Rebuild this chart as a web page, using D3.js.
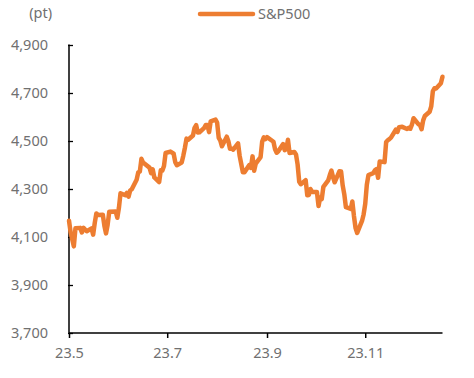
<!DOCTYPE html>
<html>
<head>
<meta charset="utf-8">
<script src="https://cdn.jsdelivr.net/npm/d3@7"></script>
<style>
html,body{margin:0;padding:0;background:#fff;}
svg text{font-family:"Noto Sans",sans-serif;fill:#707070;}
</style>
</head>
<body>
<svg id="chart" width="474" height="378"></svg>
<script>
const seriesName = "S&P500";
const unitLabel = "(pt)";
const yTicks = [3700, 3900, 4100, 4300, 4500, 4700, 4900];
const xTickDates = ["2023-05-01", "2023-07-01", "2023-09-01", "2023-11-01"];
const xTickLabels = ["23.5", "23.7", "23.9", "23.11"];
const dates = [
"2023-05-01","2023-05-02","2023-05-03","2023-05-04","2023-05-05","2023-05-08","2023-05-09","2023-05-10","2023-05-11","2023-05-12",
"2023-05-15","2023-05-16","2023-05-17","2023-05-18","2023-05-19","2023-05-22","2023-05-23","2023-05-24","2023-05-25","2023-05-26",
"2023-05-30","2023-05-31","2023-06-01","2023-06-02","2023-06-05","2023-06-06","2023-06-07","2023-06-08","2023-06-09","2023-06-12",
"2023-06-13","2023-06-14","2023-06-15","2023-06-16","2023-06-20","2023-06-21","2023-06-22","2023-06-23","2023-06-26","2023-06-27",
"2023-06-28","2023-06-29","2023-06-30","2023-07-03","2023-07-05","2023-07-06","2023-07-07","2023-07-10","2023-07-11","2023-07-12",
"2023-07-13","2023-07-14","2023-07-17","2023-07-18","2023-07-19","2023-07-20","2023-07-21","2023-07-24","2023-07-25","2023-07-26",
"2023-07-27","2023-07-28","2023-07-31","2023-08-01","2023-08-02","2023-08-03","2023-08-04","2023-08-07","2023-08-08","2023-08-09",
"2023-08-10","2023-08-11","2023-08-14","2023-08-15","2023-08-16","2023-08-17","2023-08-18","2023-08-21","2023-08-22","2023-08-23",
"2023-08-24","2023-08-25","2023-08-28","2023-08-29","2023-08-30","2023-08-31","2023-09-01","2023-09-05","2023-09-06","2023-09-07",
"2023-09-08","2023-09-11","2023-09-12","2023-09-13","2023-09-14","2023-09-15","2023-09-18","2023-09-19","2023-09-20","2023-09-21",
"2023-09-22","2023-09-25","2023-09-26","2023-09-27","2023-09-28","2023-09-29","2023-10-02","2023-10-03","2023-10-04","2023-10-05",
"2023-10-06","2023-10-09","2023-10-10","2023-10-11","2023-10-12","2023-10-13","2023-10-16","2023-10-17","2023-10-18","2023-10-19",
"2023-10-20","2023-10-23","2023-10-24","2023-10-25","2023-10-26","2023-10-27","2023-10-30","2023-10-31","2023-11-01","2023-11-02",
"2023-11-03","2023-11-06","2023-11-07","2023-11-08","2023-11-09","2023-11-10","2023-11-13","2023-11-14","2023-11-15","2023-11-16",
"2023-11-17","2023-11-20","2023-11-21","2023-11-22","2023-11-24","2023-11-27","2023-11-28","2023-11-29","2023-11-30","2023-12-01",
"2023-12-04","2023-12-05","2023-12-06","2023-12-07","2023-12-08","2023-12-11","2023-12-12","2023-12-13","2023-12-14","2023-12-15",
"2023-12-18","2023-12-19"
];
const values = [
4168,4120,4091,4061,4136,4138,4119,4138,4131,4124,
4136,4110,4159,4198,4192,4193,4146,4115,4151,4205,
4206,4180,4221,4282,4274,4284,4268,4294,4299,4339,
4369,4373,4426,4410,4389,4366,4382,4348,4329,4378,
4377,4396,4450,4456,4447,4412,4399,4410,4439,4472,
4510,4505,4523,4555,4566,4535,4536,4555,4567,4567,
4537,4582,4589,4577,4513,4502,4478,4518,4499,4468,
4469,4464,4490,4438,4404,4370,4370,4400,4388,4436,
4376,4406,4433,4498,4515,4508,4516,4497,4465,4451,
4457,4487,4462,4467,4505,4450,4454,4444,4402,4330,
4320,4337,4274,4275,4300,4288,4288,4229,4264,4258,
4309,4336,4358,4377,4350,4328,4374,4373,4315,4278,
4224,4217,4248,4187,4137,4117,4167,4194,4238,4318,
4358,4366,4378,4383,4347,4415,4412,4496,4503,4508,
4514,4547,4538,4557,4559,4550,4555,4551,4568,4595,
4570,4567,4549,4586,4604,4622,4644,4707,4720,4719,
4741,4768
];

const parse = d3.timeParse("%Y-%m-%d");
const data = dates.map((d, i) => ({date: parse(d), value: values[i]}));

const svg = d3.select("#chart");
const mLeft = 69, mRight = 442.5, mTop = 45, mBottom = 333;

const x = d3.scaleTime()
  .domain([parse("2023-05-01"), parse(dates[dates.length - 1])])
  .range([mLeft, mRight]);
const y = d3.scaleLinear().domain([3700, 4900]).range([mBottom, mTop]);

// Y axis
const yAxis = svg.append("g").attr("transform", `translate(${mLeft},0)`)
  .call(d3.axisLeft(y).tickValues(yTicks).tickSize(0).tickPadding(21)
    .tickFormat(d3.format(",")));
yAxis.select(".domain").remove();
yAxis.selectAll("text").attr("font-size", 14.5).attr("fill", "#707070")
  .style("font-family", "'Noto Sans', sans-serif");
yAxis.selectAll(".tick").append("line")
  .attr("x1", -1).attr("x2", 4).attr("stroke", "#000").attr("stroke-width", 1.3);
svg.append("line").attr("x1", mLeft).attr("x2", mLeft).attr("y1", mTop - 0.5).attr("y2", mBottom)
  .attr("stroke", "#000").attr("stroke-width", 1.5);

// X axis
const xAxis = svg.append("g").attr("transform", `translate(0,${mBottom})`)
  .call(d3.axisBottom(x).tickValues(xTickDates.map(parse)).tickSize(5).tickPadding(10)
    .tickFormat((d, i) => xTickLabels[i]));
xAxis.select(".domain").remove();
xAxis.selectAll(".tick line").attr("stroke", "#000").attr("stroke-width", 1.5);
xAxis.selectAll("text").attr("font-size", 14.5).attr("fill", "#707070")
  .style("font-family", "'Noto Sans', sans-serif");
svg.append("line").attr("x1", mLeft).attr("x2", mRight).attr("y1", mBottom).attr("y2", mBottom)
  .attr("stroke", "#000").attr("stroke-width", 1.5);

// Unit label
svg.append("text").attr("x", 52).attr("y", 18).attr("text-anchor", "end")
  .attr("font-size", 14.5).text(unitLabel);

// Line
const line = d3.line().x(d => x(d.date)).y(d => y(d.value));
svg.append("path").datum(data)
  .attr("fill", "none").attr("stroke", "#ED7D31").attr("stroke-width", 4.5)
  .attr("stroke-linejoin", "round").attr("stroke-linecap", "round")
  .attr("d", line);

// Legend
svg.append("line").attr("x1", 200).attr("x2", 253).attr("y1", 14).attr("y2", 14)
  .attr("stroke", "#ED7D31").attr("stroke-width", 4.5).attr("stroke-linecap", "round");
svg.append("text").attr("x", 258).attr("y", 19).attr("font-size", 14.5).text(seriesName);
</script>
</body>
</html>
